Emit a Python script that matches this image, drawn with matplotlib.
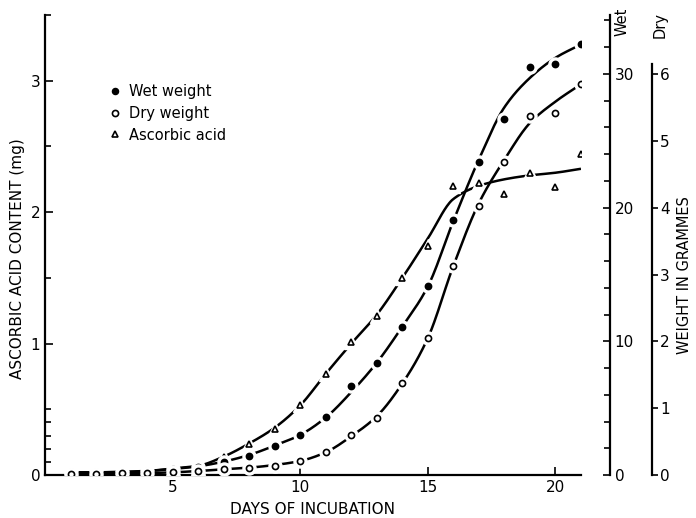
import numpy as np
import matplotlib.pyplot as plt
from matplotlib.lines import Line2D
from matplotlib.ticker import MultipleLocator, FixedLocator

# values
days = np.arange(1, 22)
wet_weight = [0.2, 0.2, 0.25, 0.3, 0.45, 0.6, 1.0, 1.45, 2.17, 2.97, 4.32,
              6.68, 8.35, 11.1, 14.1, 19.1, 23.4, 26.6, 30.5, 30.7, 32.2]
dry_weight = [0.02, 0.02, 0.03, 0.03, 0.04, 0.06, 0.085, 0.11, 0.14, 0.21, 0.34,
              0.60, 0.86, 1.37, 2.05, 3.13, 4.03, 4.69, 5.38, 5.42, 5.85]
ascorbic = [0.02, 0.02, 0.02, 0.025, 0.045, 0.05, 0.14, 0.236, 0.35, 0.53, 0.77,
            1.015, 1.21, 1.50, 1.74, 2.20, 2.22, 2.14, 2.30, 2.19, 2.44]

# the hand drawn lines, value of each line at the same days
wet_curve = [0.2, 0.2, 0.25, 0.3, 0.45, 0.65, 1.0, 1.5, 2.2, 3.0, 4.3,
             6.2, 8.4, 11.1, 14.1, 19.0, 23.6, 27.5, 29.7, 31.2, 32.2]
dry_curve = [0.02, 0.02, 0.03, 0.03, 0.04, 0.06, 0.085, 0.11, 0.15, 0.21, 0.34,
             0.58, 0.88, 1.37, 2.05, 3.13, 4.07, 4.72, 5.27, 5.59, 5.85]
asc_curve = [0.02, 0.02, 0.02, 0.03, 0.05, 0.07, 0.14, 0.24, 0.36, 0.53, 0.77,
             1.0, 1.22, 1.50, 1.80, 2.10, 2.20, 2.25, 2.28, 2.30, 2.33]

legend_labels = ['Wet weight', 'Dry weight', 'Ascorbic acid']


def smooth(x, y, n=20):
    # monotone cubic through the read values so the line looks hand drawn
    x = np.asarray(x, float)
    y = np.asarray(y, float)
    d = np.diff(y) / np.diff(x)
    m = np.zeros_like(y)
    m[0], m[-1] = d[0], d[-1]
    for i in range(1, len(y) - 1):
        if d[i - 1] * d[i] > 0:
            m[i] = 2 / (1 / d[i - 1] + 1 / d[i])
    xs, ys = [], []
    t = np.linspace(0, 1, n, endpoint=False)
    for i in range(len(x) - 1):
        h = x[i + 1] - x[i]
        h00 = 2 * t**3 - 3 * t**2 + 1
        h10 = t**3 - 2 * t**2 + t
        h01 = -2 * t**3 + 3 * t**2
        h11 = t**3 - t**2
        xs.append(x[i] + t * h)
        ys.append(h00 * y[i] + h10 * h * m[i] + h01 * y[i + 1] + h11 * h * m[i + 1])
    xs.append([x[-1]])
    ys.append([y[-1]])
    return np.concatenate(xs), np.concatenate(ys)


def draw(ax, x, pts, curve, marker, face, ms):
    cx, cy = smooth(x, curve)
    ax.plot(cx, cy, color='black', lw=1.8, zorder=2, solid_capstyle='butt')
    # white halo gives the little gaps round each point
    ax.plot(x, pts, ls='none', marker=marker, ms=ms + 5, mfc='white', mec='white', zorder=3)
    ax.plot(x, pts, ls='none', marker=marker, ms=ms, mfc=face, mec='black', mew=1.2, zorder=4)


fig = plt.figure(figsize=(6.96, 5.18), dpi=100)
ax = fig.add_axes([0.0647, 0.083, 0.770, 0.888])
wet_ax = ax.twinx()
dry_ax = ax.twinx()

# ascorbic acid on the left scale
draw(ax, days, ascorbic, asc_curve, '^', 'white', 4.4)
ax.set_xlim(0, 21)
ax.set_ylim(0, 3.5)
ax.spines['top'].set_visible(False)
ax.spines['right'].set_visible(False)
for s in ['left', 'bottom']:
    ax.spines[s].set_linewidth(1.6)
ax.xaxis.set_major_locator(FixedLocator([5, 10, 15, 20]))
ax.yaxis.set_major_locator(FixedLocator([0, 1, 2, 3]))
ax.yaxis.set_minor_locator(FixedLocator([0.1, 0.2, 0.3, 0.4, 0.5, 1.5, 2.5, 3.5]))
ax.tick_params(direction='in', labelsize=11, width=1.2)
ax.tick_params(which='major', length=6)
ax.tick_params(which='minor', length=4, width=1.2, direction='in')

# wet weight scale
draw(wet_ax, days, wet_weight, wet_curve, 'o', 'black', 4.4)
wet_ax.set_ylim(0, 34.4)
for s in ['left', 'top', 'bottom']:
    wet_ax.spines[s].set_visible(False)
wet_ax.spines['right'].set_position(('axes', 1.054))
wet_ax.spines['right'].set_bounds(0, 34.4)
wet_ax.spines['right'].set_linewidth(1.6)
wet_ax.yaxis.set_major_locator(FixedLocator([0, 10, 20, 30]))
wet_ax.yaxis.set_minor_locator(MultipleLocator(2))
wet_ax.tick_params(axis='y', direction='in', labelsize=11, length=5, width=1.2)
wet_ax.tick_params(axis='y', which='minor', direction='in', length=4, width=1.2)

# dry weight scale
draw(dry_ax, days, dry_weight, dry_curve, 'o', 'white', 4.4)
dry_ax.set_ylim(0, 6.886)
for s in ['left', 'top', 'bottom']:
    dry_ax.spines[s].set_visible(False)
dry_ax.spines['right'].set_position(('axes', 1.1325))
dry_ax.spines['right'].set_bounds(0, 6.15)
dry_ax.spines['right'].set_linewidth(1.6)
dry_ax.yaxis.set_major_locator(FixedLocator([0, 1, 2, 3, 4, 5, 6]))
dry_ax.tick_params(axis='y', direction='out', labelsize=11, length=4, width=1.2, pad=2)

# labels
ax.text(0.5, -0.075, 'DAYS OF INCUBATION', transform=ax.transAxes,
        ha='center', va='center', fontsize=11)
ax.text(-0.052, 0.47, 'ASCORBIC ACID CONTENT (mg)', transform=ax.transAxes,
        ha='center', va='center', rotation=90, fontsize=11)
ax.text(1.194, 0.435, 'WEIGHT IN GRAMMES', transform=ax.transAxes,
        ha='center', va='center', rotation=90, fontsize=10.5)
ax.text(1.0765, 0.985, 'Wet', transform=ax.transAxes,
        ha='center', va='center', rotation=90, fontsize=10.5)
ax.text(1.147, 0.978, 'Dry', transform=ax.transAxes,
        ha='center', va='center', rotation=90, fontsize=10.5)

# legend
handles = [Line2D([], [], ls='none', marker='o', ms=4.4, mfc='black', mec='black'),
           Line2D([], [], ls='none', marker='o', ms=4.4, mfc='white', mec='black', mew=1.2),
           Line2D([], [], ls='none', marker='^', ms=4.4, mfc='white', mec='black', mew=1.2)]
ax.legend(handles, legend_labels, loc='upper left', bbox_to_anchor=(0.108, 0.865),
          frameon=False, handlelength=0.6, handletextpad=0.7, borderpad=0,
          labelspacing=0.45, fontsize=10.5)

fig.savefig('out.png', dpi=100)
